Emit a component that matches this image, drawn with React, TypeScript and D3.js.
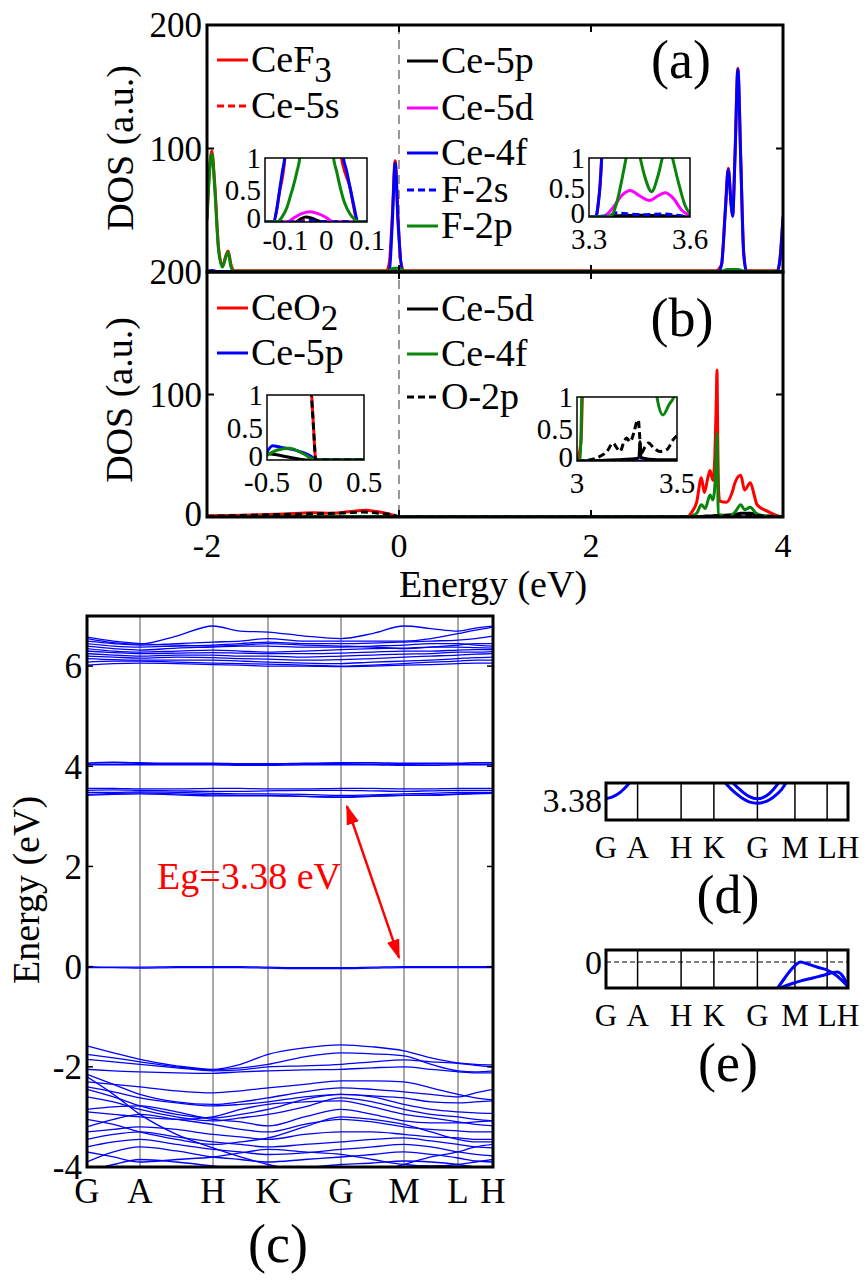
import React from 'react';
import * as d3 from 'd3';

type P = [number, number];

// ---------------- Shared axis values ----------------
const energyTicks = [-2, 0, 2, 4];
const dosTicksA = [100, 200];
const dosTicksB = [0, 100, 200];

// ---------------- Panel (a): CeF3 DOS ----------------
const aCeF3: P[] = [[-2, 44], [-1.98, 76], [-1.95, 98], [-1.92, 72], [-1.88, 20], [-1.84, 5], [-1.8, 14], [-1.78, 17], [-1.75, 6], [-1.72, 1], [-0.13, 1], [-0.1, 8], [-0.07, 45], [-0.04, 90], [-0.01, 44], [0.02, 8], [0.05, 1], [3.3, 1], [3.36, 6], [3.4, 52], [3.43, 84], [3.46, 55], [3.475, 46], [3.5, 95], [3.53, 165], [3.56, 92], [3.59, 17], [3.62, 1], [3.94, 1], [3.97, 12], [4, 45]];
const aCe5s: P[] = [[-2, 0.3], [-1, 0.3], [0, 0.4], [3.3, 0.3], [3.5, 0.5], [4, 0.3]];
const aCe5p: P[] = [[-2, 0.5], [-1.95, 1], [-1.9, 0.5], [-0.06, 0.5], [-0.05, 1.5], [-0.03, 0.5], [4, 0.5]];
const aCe5d: P[] = [[-2, 0.3], [-0.1, 0.3], [-0.04, 0.8], [0.02, 0.3], [3.35, 0.3], [3.42, 1], [3.53, 1], [3.6, 0.3], [4, 0.3]];
const aCe4f: P[] = [[-2, 0], [-0.13, 0], [-0.115, 0.45], [-0.1, 1.1], [-0.07, 40], [-0.04, 88], [-0.01, 40], [0.035, 1.1], [0.058, 0.55], [0.078, 0], [3.32, 0], [3.338, 1], [3.36, 6], [3.4, 50], [3.43, 83], [3.46, 54], [3.475, 45], [3.5, 93], [3.53, 164], [3.56, 90], [3.59, 15], [3.62, 0], [3.94, 0], [3.97, 11], [4, 44]];
const aF2s: P[] = [[-2, 0.5], [-1.95, 1], [-1.9, 0.5], [4, 0.5]];
const aF2p: P[] = [[-2, 42], [-1.98, 73], [-1.95, 96], [-1.92, 69], [-1.88, 18], [-1.84, 4], [-1.8, 13], [-1.78, 16], [-1.75, 4], [-1.72, 0.6], [-0.12, 0.6], [-0.06, 3], [0, 3], [0.06, 0.6], [3.36, 0.6], [3.42, 2], [3.53, 2], [3.6, 0.6], [4, 0.6]];

// inset a1 (-0.15 .. 0.1)
const iA1Ticks = [-0.1, 0, 0.1];
const iA1CeF3: P[] = [[-0.15, 0], [-0.13, 0], [-0.115, 0.45], [-0.1, 1.1], [-0.09, 6], [-0.04, 90], [0.02, 6], [0.035, 1.1], [0.058, 0.55], [0.078, 0], [0.1, 0]];
const iA1Ce5s: P[] = [[-0.15, 0], [-0.07, 0], [-0.05, 0.03], [-0.03, 0.03], [-0.01, 0], [0.1, 0]];
const iA1Ce5p: P[] = [[-0.15, 0], [-0.075, 0], [-0.062, 0.05], [-0.05, 0.08], [-0.035, 0.06], [-0.02, 0.02], [-0.01, 0], [0.1, 0]];
const iA1Ce5d: P[] = [[-0.15, 0], [-0.096, 0], [-0.08, 0.06], [-0.06, 0.13], [-0.04, 0.16], [-0.02, 0.13], [0, 0.07], [0.017, 0], [0.1, 0]];
const iA1Ce4f: P[] = [[-0.15, 0], [-0.13, 0], [-0.121, 0.2], [-0.113, 0.55], [-0.107, 0.8], [-0.101, 1.05], [-0.09, 6], [-0.04, 88], [0.02, 6], [0.041, 1.05], [0.05, 0.8], [0.058, 0.55], [0.068, 0.25], [0.078, 0], [0.1, 0]];
const iA1F2s: P[] = [[-0.15, 0], [-0.06, 0], [-0.04, 0.02], [-0.02, 0.01], [0.1, 0]];
const iA1F2p: P[] = [[-0.15, 0], [-0.121, 0], [-0.108, 0.08], [-0.096, 0.23], [-0.088, 0.4], [-0.081, 0.55], [-0.072, 0.78], [-0.064, 1.05], [-0.05, 3], [0, 3], [0.017, 1.05], [0.026, 0.78], [0.034, 0.55], [0.045, 0.3], [0.058, 0.13], [0.07, 0.04], [0.083, 0], [0.1, 0]];

// inset a2 (3.3 .. 3.6)
const iA2Ticks = [3.3, 3.6];
const iA2CeF3: P[] = [[3.3, 0], [3.32, 0], [3.328, 0.25], [3.333, 0.55], [3.338, 1.05], [3.36, 6], [3.4, 50], [3.43, 84], [3.5, 95], [3.53, 165], [3.56, 92], [3.6, 10]];
const iA2Ce5s: P[] = [[3.3, 0], [3.4, 0.01], [3.5, 0.02], [3.6, 0]];
const iA2Ce5p: P[] = [[3.3, 0], [3.38, 0.02], [3.45, 0.03], [3.52, 0.02], [3.6, 0]];
const iA2Ce5d: P[] = [[3.3, 0], [3.34, 0], [3.37, 0.15], [3.4, 0.38], [3.422, 0.45], [3.45, 0.36], [3.48, 0.28], [3.505, 0.36], [3.526, 0.41], [3.55, 0.32], [3.575, 0.12], [3.6, 0.02]];
const iA2Ce4f: P[] = [[3.3, 0], [3.32, 0], [3.328, 0.25], [3.333, 0.55], [3.338, 1.05], [3.36, 6], [3.4, 50], [3.43, 83], [3.46, 54], [3.475, 45], [3.5, 93], [3.53, 164], [3.56, 90], [3.6, 8]];
const iA2F2s: P[] = [[3.3, 0], [3.36, 0.02], [3.38, 0.07], [3.42, 0.05], [3.46, 0.04], [3.52, 0.05], [3.56, 0.03], [3.6, 0]];
const iA2F2p: P[] = [[3.3, 0], [3.355, 0], [3.37, 0.05], [3.385, 0.3], [3.4, 0.7], [3.412, 1.05], [3.43, 1.5], [3.45, 1.05], [3.465, 0.7], [3.486, 0.43], [3.505, 0.7], [3.52, 1.05], [3.535, 1.3], [3.546, 1.05], [3.565, 0.6], [3.585, 0.2], [3.6, 0.05]];

// ---------------- Panel (b): CeO2 DOS ----------------
const bCeO2: P[] = [[-2, 1], [-1.6, 1.5], [-1.2, 2.5], [-0.9, 3.5], [-0.7, 3], [-0.5, 4.5], [-0.35, 5.5], [-0.2, 4], [-0.06, 1.5], [0, 0], [3, 0], [3.05, 4], [3.1, 12], [3.15, 32], [3.18, 20], [3.22, 33], [3.24, 38], [3.27, 30], [3.29, 50], [3.305, 95], [3.3125, 120], [3.32, 65], [3.33, 20], [3.34, 13], [3.41, 12], [3.47, 20], [3.5, 28], [3.56, 34], [3.6, 22], [3.66, 28], [3.7, 18], [3.73, 10], [3.83, 5], [3.97, 0.5], [4, 0.3]];
const bCe5p: P[] = [[-2, 0.3], [-0.4, 0.5], [0, 0], [4, 0]];
const bCe5d: P[] = [[-2, 0.3], [-0.3, 0.3], [0, 0], [3, 0], [3.3, 1], [3.5, 2], [3.56, 3], [3.66, 3], [3.75, 1], [4, 0]];
const bCe4f: P[] = [[-2, 0.3], [-0.3, 0.5], [0, 0], [3, 0], [3.1, 3], [3.15, 10], [3.19, 7], [3.24, 18], [3.27, 14], [3.3, 40], [3.3125, 68], [3.32, 30], [3.325, 2], [3.45, 1], [3.5, 4], [3.56, 10], [3.6, 6], [3.66, 8], [3.72, 3], [3.8, 1], [4, 0]];
const bO2p: P[] = [[-2, 0.5], [-1.5, 1.5], [-1, 2.5], [-0.6, 3.2], [-0.4, 4], [-0.2, 3], [-0.05, 1.5], [0, 0], [3, 0], [3.3, 1], [3.6, 1.5], [4, 0]];

// inset b1 (-0.5 .. 0.5)
const iB1Ticks = [-0.5, 0, 0.5];
const iB1CeO2: P[] = [[-0.5, 4.5], [-0.2, 4], [-0.06, 1.5], [-0.04, 1.0], [-0.02, 0.5], [-0.005, 0.1], [0, 0], [0.5, 0]];
const iB1Ce5p: P[] = [[-0.5, 0.13], [-0.44, 0.22], [-0.37, 0.2], [-0.3, 0.18], [-0.16, 0.13], [-0.04, 0.05], [0, 0], [0.5, 0]];
const iB1Ce5d: P[] = [[-0.5, 0.1], [-0.4, 0.08], [-0.3, 0.05], [-0.16, 0.01], [-0.1, 0], [0.5, 0]];
const iB1Ce4f: P[] = [[-0.5, 0.07], [-0.4, 0.15], [-0.27, 0.18], [-0.13, 0.1], [-0.02, 0.01], [0, 0], [0.5, 0]];
const iB1O2p: P[] = [[-0.5, 4], [-0.2, 3], [-0.06, 1.4], [-0.04, 0.95], [-0.02, 0.48], [-0.005, 0.1], [0, 0], [0.5, 0]];

// inset b2 (3 .. 3.5)
const iB2Ticks = [3, 3.5];
const iB2CeO2: P[] = [[3, 0], [3.02, 0.3], [3.03, 1.5], [3.1, 12], [3.15, 32], [3.3125, 120], [3.34, 13], [3.41, 12], [3.5, 28]];
const iB2Ce5p: P[] = [[3, 0], [3.5, 0]];
const iB2Ce5d: P[] = [[3, 0], [3.2, 0.02], [3.3, 0.04], [3.31, 0.06], [3.315, 0.3], [3.32, 0.05], [3.4, 0.02], [3.5, 0.02]];
const iB2Ce4f: P[] = [[3, 0], [3.015, 0.02], [3.02, 0.4], [3.025, 1.2], [3.05, 4], [3.3, 40], [3.38, 1.6], [3.4, 1.0], [3.43, 0.72], [3.46, 0.88], [3.49, 1.05], [3.5, 1.3]];
const iB2O2p: P[] = [[3, 0], [3.05, 0.01], [3.1, 0.05], [3.15, 0.15], [3.18, 0.28], [3.2, 0.2], [3.215, 0.15], [3.235, 0.3], [3.248, 0.36], [3.265, 0.3], [3.285, 0.45], [3.3, 0.62], [3.307, 0.64], [3.312, 0.45], [3.32, 0.12], [3.34, 0.22], [3.357, 0.28], [3.385, 0.2], [3.415, 0.15], [3.45, 0.18], [3.48, 0.33], [3.5, 0.4]];

// ---------------- Panel (c): band structure ----------------
const kLabels = ['G', 'A', 'H', 'K', 'G', 'M', 'L', 'H'];
const kPoints = [0, 0.53, 1.26, 1.81, 2.54, 3.17, 3.71, 4.06];
const kGrid = [0, 0.265, 0.53, 0.895, 1.26, 1.535, 1.81, 2.175, 2.54, 2.855, 3.17, 3.44, 3.71, 3.885, 4.06];
const bandTicks = [-4, -2, 0, 2, 4, 6];

const upperBands = [
  [6.55, 6.47, 6.44, 6.6, 6.8, 6.7, 6.68, 6.6, 6.55, 6.65, 6.8, 6.75, 6.7, 6.76, 6.8],
  [6.5, 6.45, 6.42, 6.45, 6.48, 6.5, 6.55, 6.5, 6.5, 6.5, 6.5, 6.55, 6.65, 6.72, 6.78],
  [6.45, 6.4, 6.38, 6.4, 6.42, 6.45, 6.48, 6.45, 6.45, 6.46, 6.48, 6.5, 6.52, 6.55, 6.6],
  [6.4, 6.35, 6.32, 6.36, 6.38, 6.4, 6.4, 6.38, 6.38, 6.4, 6.42, 6.45, 6.45, 6.42, 6.4],
  [6.35, 6.3, 6.28, 6.3, 6.32, 6.3, 6.28, 6.3, 6.33, 6.35, 6.36, 6.38, 6.38, 6.37, 6.36],
  [6.3, 6.27, 6.25, 6.26, 6.27, 6.26, 6.25, 6.25, 6.26, 6.28, 6.3, 6.3, 6.32, 6.33, 6.33],
  [6.25, 6.22, 6.2, 6.22, 6.22, 6.2, 6.2, 6.18, 6.2, 6.22, 6.24, 6.25, 6.28, 6.28, 6.29],
  [6.2, 6.18, 6.16, 6.18, 6.17, 6.15, 6.14, 6.12, 6.13, 6.15, 6.18, 6.2, 6.22, 6.24, 6.25],
  [6.15, 6.13, 6.12, 6.12, 6.12, 6.1, 6.08, 6.06, 6.05, 6.08, 6.1, 6.12, 6.15, 6.17, 6.18],
  [6.08, 6.1, 6.1, 6.08, 6.06, 6.05, 6.04, 6.02, 6.0, 6.02, 6.05, 6.08, 6.1, 6.12, 6.12],
  [6.02, 6.05, 6.06, 6.05, 6.03, 6.02, 6.0, 6.0, 5.99, 6.0, 6.02, 6.03, 6.05, 6.06, 6.06],
  [6.58, 6.5, 6.45, 6.42, 6.4, 6.42, 6.45, 6.42, 6.4, 6.38, 6.35, 6.38, 6.42, 6.45, 6.45],
];
const fourBands = [
  [4.06, 4.08, 4.07, 4.06, 4.06, 4.05, 4.05, 4.06, 4.07, 4.07, 4.06, 4.06, 4.06, 4.07, 4.07],
  [4.04, 4.04, 4.05, 4.05, 4.04, 4.04, 4.04, 4.05, 4.05, 4.04, 4.04, 4.05, 4.05, 4.04, 4.04],
  [4.03, 4.03, 4.03, 4.03, 4.03, 4.02, 4.02, 4.03, 4.03, 4.03, 4.02, 4.02, 4.03, 4.03, 4.03],
];
const gapBands = [
  [3.56, 3.56, 3.55, 3.55, 3.56, 3.56, 3.55, 3.55, 3.56, 3.56, 3.55, 3.55, 3.56, 3.56, 3.56],
  [3.52, 3.53, 3.52, 3.51, 3.5, 3.5, 3.51, 3.52, 3.52, 3.51, 3.5, 3.51, 3.52, 3.52, 3.52],
  [3.48, 3.48, 3.49, 3.48, 3.46, 3.45, 3.45, 3.44, 3.42, 3.43, 3.45, 3.46, 3.48, 3.48, 3.48],
  [3.44, 3.46, 3.47, 3.45, 3.43, 3.42, 3.42, 3.4, 3.38, 3.4, 3.42, 3.43, 3.45, 3.46, 3.47],
  [3.42, 3.44, 3.45, 3.43, 3.41, 3.41, 3.41, 3.4, 3.39, 3.41, 3.42, 3.42, 3.44, 3.45, 3.46],
];
const zeroBands = [
  [0.0, -0.01, -0.01, 0, 0, 0, -0.01, -0.02, -0.02, -0.01, 0, 0, 0, 0, 0],
  [-0.02, -0.02, -0.03, -0.02, -0.02, -0.02, -0.03, -0.04, -0.04, -0.03, -0.02, -0.02, -0.02, -0.02, -0.02],
];
const valenceBands = [
  [-1.58, -1.72, -1.85, -1.98, -2.05, -1.95, -1.75, -1.62, -1.56, -1.6, -1.68, -1.82, -1.92, -1.95, -1.96],
  [-1.75, -1.82, -1.9, -2.0, -2.06, -2.02, -1.95, -1.8, -1.72, -1.74, -1.78, -1.95, -2.08, -2.1, -2.08],
  [-1.85, -1.9, -1.95, -2.02, -2.08, -2.06, -2.0, -1.98, -1.95, -1.9, -1.86, -1.9, -1.93, -1.97, -2.0],
  [-2.05, -2.08, -2.1, -2.12, -2.13, -2.1, -2.08, -2.06, -2.05, -2.02, -2.0, -2.05, -2.1, -2.12, -2.12],
  [-2.3, -2.35, -2.4, -2.48, -2.52, -2.48, -2.42, -2.35, -2.28, -2.28, -2.3, -2.42, -2.55, -2.62, -2.66],
  [-2.15, -2.35, -2.55, -2.7, -2.75, -2.7, -2.62, -2.5, -2.42, -2.45, -2.5, -2.55, -2.6, -2.52, -2.45],
  [-2.45, -2.6, -2.78, -2.95, -3.02, -2.95, -2.85, -2.65, -2.55, -2.6, -2.75, -2.85, -2.9, -2.92, -2.93],
  [-2.6, -2.7, -2.85, -3.0, -3.08, -3.02, -2.95, -2.8, -2.62, -2.7, -2.85, -2.95, -3.0, -3.05, -3.08],
  [-2.85, -2.8, -2.78, -2.9, -3.05, -3.1, -3.18, -3.0, -2.85, -2.95, -3.08, -3.12, -3.12, -3.1, -3.08],
  [-2.9, -2.95, -3.0, -3.05, -3.0, -2.85, -2.75, -2.7, -2.68, -2.8, -2.95, -3.02, -3.1, -3.15, -3.18],
  [-3.2, -3.05, -2.95, -3.05, -3.15, -3.25, -3.3, -3.15, -3.05, -3.1, -3.2, -3.25, -3.28, -3.3, -3.3],
  [-3.3, -3.25, -3.2, -3.25, -3.35, -3.4, -3.45, -3.35, -3.3, -3.3, -3.35, -3.4, -3.42, -3.45, -3.45],
  [-3.45, -3.35, -3.3, -3.4, -3.5, -3.55, -3.6, -3.55, -3.5, -3.45, -3.42, -3.48, -3.55, -3.6, -3.62],
  [-3.6, -3.5, -3.45, -3.55, -3.65, -3.7, -3.75, -3.72, -3.65, -3.6, -3.55, -3.6, -3.7, -3.75, -3.78],
  [-3.9, -3.7, -3.6, -3.68, -3.8, -3.85, -3.9, -3.85, -3.8, -3.75, -3.7, -3.75, -3.82, -3.88, -3.9],
  [-4.1, -3.95, -3.85, -3.9, -3.98, -4.05, -4.1, -4.02, -3.95, -3.92, -3.88, -3.9, -3.95, -4.0, -4.02],
  [-3.05, -3.15, -3.3, -3.45, -3.55, -3.5, -3.42, -3.2, -3.0, -3.05, -3.15, -3.3, -3.45, -3.5, -3.5],
  [-2.4, -2.5, -2.62, -2.72, -2.78, -2.75, -2.7, -2.6, -2.55, -2.58, -2.62, -2.7, -2.72, -2.7, -2.68],
  [-3.7, -3.8, -3.9, -3.85, -3.8, -3.72, -3.65, -3.7, -3.75, -3.85, -3.95, -3.98, -3.95, -3.9, -3.85],
  [-2.2, -2.55, -2.95, -3.35, -3.62, -3.8, -3.95, -4.1, -4.2, -4.1, -3.95, -3.8, -3.7, -3.6, -3.55],
];
const gapLabel = 'Eg=3.38 eV';
const gapLabelAt: P = [0.7, 1.54];
const gapArrow: P[] = [[2.6, 3.2], [3.12, 0.18]];

// ---------------- Panels (d), (e): zoom near band edges ----------------
const dTick = 3.38;
const dLeftK = [0, 0.1, 0.2, 0.3, 0.4, 0.45];
const dLeftE = [3.384, 3.388, 3.397, 3.412, 3.432, 3.445];
const dBand1K = [2.0, 2.1, 2.2, 2.3, 2.4, 2.54, 2.65, 2.75, 2.85, 2.95, 3.02];
const dBand1E = [3.43, 3.412, 3.396, 3.383, 3.374, 3.37, 3.373, 3.381, 3.394, 3.412, 3.43];
const dBand2K = [2.13, 2.2, 2.3, 2.4, 2.54, 2.65, 2.75, 2.85, 2.89];
const dBand2E = [3.43, 3.418, 3.402, 3.39, 3.383, 3.388, 3.4, 3.42, 3.43];
const eTick = 0;
const eBand1K = [2.88, 3.0, 3.1, 3.2, 3.26, 3.4, 3.55, 3.71, 3.85, 3.95, 4.06];
const eBand1E = [-0.065, -0.04, -0.02, -0.005, 0.0, -0.006, -0.013, -0.02, -0.032, -0.045, -0.062];
const eBand2K = [2.92, 3.1, 3.3, 3.47, 3.65, 3.88, 3.97, 4.06];
const eBand2E = [-0.065, -0.055, -0.046, -0.04, -0.033, -0.025, -0.035, -0.062];

// ---------------- Styles ----------------
const FONT = '"Liberation Serif", "Times New Roman", Times, serif';
const RED = '#ff0000';
const BLUE = '#0000ff';
const GREEN = '#0a850a';
const MAG = '#ff00ff';
const BLK = '#000000';
const DASH = '7,4';

type S = { name: string; color: string; dash: string; main: P[]; in1: P[]; in2: P[] };

const seriesA: S[] = [
  { name: 'CeF_3', color: RED, dash: '', main: aCeF3, in1: iA1CeF3, in2: iA2CeF3 },
  { name: 'Ce-5s', color: RED, dash: DASH, main: aCe5s, in1: iA1Ce5s, in2: iA2Ce5s },
  { name: 'Ce-5p', color: BLK, dash: '', main: aCe5p, in1: iA1Ce5p, in2: iA2Ce5p },
  { name: 'Ce-5d', color: MAG, dash: '', main: aCe5d, in1: iA1Ce5d, in2: iA2Ce5d },
  { name: 'Ce-4f', color: BLUE, dash: '', main: aCe4f, in1: iA1Ce4f, in2: iA2Ce4f },
  { name: 'F-2s', color: BLUE, dash: DASH, main: aF2s, in1: iA1F2s, in2: iA2F2s },
  { name: 'F-2p', color: GREEN, dash: '', main: aF2p, in1: iA1F2p, in2: iA2F2p },
];
const seriesB: S[] = [
  { name: 'CeO_2', color: RED, dash: '', main: bCeO2, in1: iB1CeO2, in2: iB2CeO2 },
  { name: 'Ce-5p', color: BLUE, dash: '', main: bCe5p, in1: iB1Ce5p, in2: iB2Ce5p },
  { name: 'Ce-5d', color: BLK, dash: '', main: bCe5d, in1: iB1Ce5d, in2: iB2Ce5d },
  { name: 'Ce-4f', color: GREEN, dash: '', main: bCe4f, in1: iB1Ce4f, in2: iB2Ce4f },
  { name: 'O-2p', color: BLK, dash: DASH, main: bO2p, in1: iB1O2p, in2: iB2O2p },
];

const curve = (xs: any, ys: any) =>
  d3.line<P>().x((d) => xs(d[0])).y((d) => ys(d[1])).curve(d3.curveMonotoneX);

function LegendItem({ x0, base, s }: { x0: number; base: number; s: S }) {
  const [main, sub] = s.name.split('_');
  return (
    <g>
      <line x1={x0} x2={x0 + 31} y1={base - 12} y2={base - 12} stroke={s.color} strokeWidth={3} strokeDasharray={s.dash || undefined} />
      <text x={x0 + 34} y={base} fontSize={38}>
        {main}
        {sub ? <tspan fontSize={35} dy={10}>{sub}</tspan> : null}
      </text>
    </g>
  );
}

function Inset({ id, xd, yd, xr, yr, data, xTicks, labelGap }: any) {
  const xs = d3.scaleLinear().domain(xd).range(xr);
  const ys = d3.scaleLinear().domain(yd).range(yr);
  const line = curve(xs, ys);
  return (
    <g>
      <defs>
        <clipPath id={id}>
          <rect x={xr[0]} y={yr[1]} width={xr[1] - xr[0]} height={yr[0] - yr[1]} />
        </clipPath>
      </defs>
      <rect x={xr[0]} y={yr[1]} width={xr[1] - xr[0]} height={yr[0] - yr[1]} fill="#fff" />
      <g clipPath={`url(#${id})`}>
        {data.map((s: S, i: number) => (
          <path key={i} d={line(id.endsWith('1') ? s.in1 : s.in2) || ''} fill="none" stroke={s.color} strokeWidth={3} strokeDasharray={s.dash || undefined} strokeLinejoin="round" />
        ))}
      </g>
      <rect x={xr[0]} y={yr[1]} width={xr[1] - xr[0]} height={yr[0] - yr[1]} fill="none" stroke="#000" strokeWidth={1.5} />
      {[0, 0.5, 1].map((t) => (
        <text key={t} x={xr[0] - 4} y={ys(t)} dy={t === 0 ? '0.2em' : '0.35em'} textAnchor="end" fontSize={29}>{String(t)}</text>
      ))}
      {xTicks.map((t: number) => (
        <text key={t} x={xs(t)} y={yr[0] + labelGap} textAnchor="middle" fontSize={29}>{String(t)}</text>
      ))}
    </g>
  );
}

export default function App() {
  const x = d3.scaleLinear().domain([-2, 4]).range([207, 783]);
  const yA = d3.scaleLinear().domain([0, 200]).range([272, 25]);
  const yB = d3.scaleLinear().domain([0, 200]).range([517, 272]);
  const lineA = curve(x, yA);
  const lineB = curve(x, yB);

  const kx = d3.scaleLinear().domain([0, 4.06]).range([87, 493]);
  const ey = d3.scaleLinear().domain([-4, 7]).range([1167, 616]);
  const bandLine = d3.line<number>().x((_, i) => kx(kGrid[i])).y((d) => ey(d)).curve(d3.curveMonotoneX);
  const allBands = [...upperBands, ...fourBands, ...gapBands, ...zeroBands, ...valenceBands];

  const kx2 = d3.scaleLinear().domain([0, 4.06]).range([606, 848]);
  const dy = d3.scaleLinear().domain([3.32, 3.43]).range([820, 783]);
  const eyy = d3.scaleLinear().domain([-0.065, 0.03]).range([988, 950]);
  const dLine = d3.line<number>().curve(d3.curveMonotoneX);

  const mkPts = (ks: number[], es: number[], xs: any, ys: any) => ks.map((k, i) => [xs(k), ys(es[i])] as [number, number]);

  const boxA = { x0: 207, x1: 783, y0: 25, y1: 272 };
  const boxB = { x0: 207, x1: 783, y0: 272, y1: 517 };

  const axisTicks = (ys: any, ticks: number[], y0: number, y1: number) => (
    <g stroke="#000" strokeWidth={2}>
      {energyTicks.map((t) => (
        <g key={'x' + t}>
          <line x1={x(t)} x2={x(t)} y1={y1} y2={y1 - 7} />
          <line x1={x(t)} x2={x(t)} y1={y0} y2={y0 + 7} />
        </g>
      ))}
      {ticks.map((t) => (
        <g key={'y' + t}>
          <line x1={207} x2={214} y1={ys(t)} y2={ys(t)} />
          <line x1={783} x2={776} y1={ys(t)} y2={ys(t)} />
        </g>
      ))}
    </g>
  );

  const [a0, a1] = gapArrow;
  const ax0 = kx(a0[0]), ay0 = ey(a0[1]), ax1 = kx(a1[0]), ay1 = ey(a1[1]);

  return (
    <svg width={867} height={1280} style={{ position: 'absolute', left: 0, top: 0, background: '#fff' }} fontFamily={FONT}>
      <defs>
        <clipPath id="clipA"><rect x={boxA.x0} y={boxA.y0} width={boxA.x1 - boxA.x0} height={boxA.y1 - boxA.y0} /></clipPath>
        <clipPath id="clipB"><rect x={boxB.x0} y={boxB.y0} width={boxB.x1 - boxB.x0} height={boxB.y1 - boxB.y0} /></clipPath>
        <clipPath id="clipC"><rect x={87} y={616} width={406} height={551} /></clipPath>
        <clipPath id="clipD"><rect x={606} y={783} width={242} height={37} /></clipPath>
        <clipPath id="clipE"><rect x={606} y={950} width={242} height={38} /></clipPath>
        <marker id="arrowHead" viewBox="0 0 10 10" refX="9" refY="5" markerWidth="8" markerHeight="8" orient="auto-start-reverse" markerUnits="strokeWidth">
          <path d="M0,1.8 L10,5 L0,8.2 z" fill={RED} />
        </marker>
      </defs>
      <rect x={0} y={0} width={867} height={1280} fill="#fff" />

      {/* ============ Panel (a) ============ */}
      <line x1={x(0)} x2={x(0)} y1={25} y2={517} stroke="#555" strokeWidth={1.2} strokeDasharray="9,6" />
      <g clipPath="url(#clipA)">
        {seriesA.map((s, i) => (
          <path key={i} d={lineA(s.main) || ''} fill="none" stroke={s.color} strokeWidth={3} strokeDasharray={s.dash || undefined} strokeLinejoin="round" />
        ))}
      </g>
      <rect x={boxA.x0} y={boxA.y0} width={boxA.x1 - boxA.x0} height={boxA.y1 - boxA.y0} fill="none" stroke="#000" strokeWidth={3} />
      {axisTicks(yA, [0, 100, 200], boxA.y0, boxA.y1)}
      {dosTicksA.map((t) => (
        <text key={t} x={202} y={yA(t)} dy="0.35em" textAnchor="end" fontSize={35}>{t}</text>
      ))}
      <text transform={`translate(133,${148}) rotate(-90)`} textAnchor="middle" fontSize={38}>DOS (a.u.)</text>
      {seriesA.slice(0, 2).map((s, i) => <LegendItem key={i} x0={217} base={[72, 118][i]} s={s} />)}
      {seriesA.slice(2).map((s, i) => <LegendItem key={i} x0={407} base={[73, 120, 165, 202, 238][i]} s={s} />)}
      <text x={681} y={78} textAnchor="middle" fontSize={54}>(a)</text>
      <Inset id="insA1" xd={[-0.15, 0.1]} yd={[0, 1]} xr={[265, 367]} yr={[222, 158]} data={seriesA} xTicks={iA1Ticks} labelGap={28} />
      <Inset id="insA2" xd={[3.3, 3.6]} yd={[0, 1]} xr={[589, 690]} yr={[217, 158]} data={seriesA} xTicks={iA2Ticks} labelGap={32} />

      {/* ============ Panel (b) ============ */}
      <g clipPath="url(#clipB)">
        {seriesB.map((s, i) => (
          <path key={i} d={lineB(s.main) || ''} fill="none" stroke={s.color} strokeWidth={3} strokeDasharray={s.dash || undefined} strokeLinejoin="round" />
        ))}
      </g>
      <rect x={boxB.x0} y={boxB.y0} width={boxB.x1 - boxB.x0} height={boxB.y1 - boxB.y0} fill="none" stroke="#000" strokeWidth={3} />
      {axisTicks(yB, [0, 100, 200], boxB.y0, boxB.y1)}
      {dosTicksB.map((t) => (
        <text key={t} x={202} y={yB(t)} dy={t === 0 ? '0.25em' : '0.35em'} textAnchor="end" fontSize={35}>{t}</text>
      ))}
      {energyTicks.map((t) => (
        <text key={t} x={x(t)} y={557} textAnchor="middle" fontSize={34}>{t}</text>
      ))}
      <text x={493} y={597} textAnchor="middle" fontSize={38}>Energy (eV)</text>
      <text transform={`translate(132,${400}) rotate(-90)`} textAnchor="middle" fontSize={38}>DOS (a.u.)</text>
      {seriesB.slice(0, 2).map((s, i) => <LegendItem key={i} x0={217} base={[320, 365][i]} s={s} />)}
      {seriesB.slice(2).map((s, i) => <LegendItem key={i} x0={407} base={[321, 366, 409][i]} s={s} />)}
      <text x={682} y={336} textAnchor="middle" fontSize={54}>(b)</text>
      <Inset id="insB1" xd={[-0.5, 0.5]} yd={[0, 1]} xr={[267, 364]} yr={[460, 395]} data={seriesB} xTicks={iB1Ticks} labelGap={32} />
      <Inset id="insB2" xd={[3, 3.5]} yd={[0, 1]} xr={[577, 677]} yr={[461, 397]} data={seriesB} xTicks={iB2Ticks} labelGap={32} />

      {/* ============ Panel (c) ============ */}
      {kPoints.slice(1, -1).map((k, i) => (
        <line key={i} x1={kx(k)} x2={kx(k)} y1={616} y2={1167} stroke="#555" strokeWidth={1} />
      ))}
      <g clipPath="url(#clipC)">
        {allBands.map((b, i) => (
          <path key={i} d={bandLine(b) || ''} fill="none" stroke={BLUE} strokeWidth={1.3} />
        ))}
      </g>
      <rect x={87} y={616} width={406} height={551} fill="none" stroke="#000" strokeWidth={3} />
      {bandTicks.map((t) => (
        <g key={t}>
          <line x1={87} x2={93} y1={ey(t)} y2={ey(t)} stroke="#000" strokeWidth={1.5} />
          <line x1={493} x2={487} y1={ey(t)} y2={ey(t)} stroke="#000" strokeWidth={1.5} />
          <text x={82} y={ey(t)} dy="0.35em" textAnchor="end" fontSize={35}>{t}</text>
        </g>
      ))}
      {kLabels.map((l, i) => (
        <text key={i} x={kx(kPoints[i])} y={1203} textAnchor="middle" fontSize={35}>{l}</text>
      ))}
      <text transform={`translate(39,890) rotate(-90)`} textAnchor="middle" fontSize={38}>Energy (eV)</text>
      <line x1={ax0} y1={ay0} x2={ax1} y2={ay1} stroke={RED} strokeWidth={2.5} markerStart="url(#arrowHead)" markerEnd="url(#arrowHead)" />
      <text x={kx(gapLabelAt[0])} y={ey(gapLabelAt[1])} fontSize={38} fill={RED}>{gapLabel}</text>
      <text x={278} y={1262} textAnchor="middle" fontSize={54}>(c)</text>

      {/* ============ Panel (d) ============ */}
      {kPoints.slice(1, -1).map((k, i) => (
        <line key={i} x1={kx2(k)} x2={kx2(k)} y1={783} y2={820} stroke="#000" strokeWidth={1.5} />
      ))}
      <g clipPath="url(#clipD)" fill="none" stroke={BLUE} strokeWidth={3}>
        <path d={dLine(mkPts(dLeftK, dLeftE, kx2, dy)) || ''} />
        <path d={dLine(mkPts(dBand1K, dBand1E, kx2, dy)) || ''} />
        <path d={dLine(mkPts(dBand2K, dBand2E, kx2, dy)) || ''} />
      </g>
      <rect x={606} y={783} width={242} height={37} fill="none" stroke="#000" strokeWidth={3} />
      <text x={602} y={dy(dTick)} dy="0.35em" textAnchor="end" fontSize={34}>{dTick.toFixed(2)}</text>
      {kLabels.map((l, i) => (
        <text key={i} x={kx2(kPoints[i])} y={858} textAnchor="middle" fontSize={31}>{l}</text>
      ))}
      <text x={728} y={913} textAnchor="middle" fontSize={54}>(d)</text>

      {/* ============ Panel (e) ============ */}
      {kPoints.slice(1, -1).map((k, i) => (
        <line key={i} x1={kx2(k)} x2={kx2(k)} y1={950} y2={988} stroke="#000" strokeWidth={1.5} />
      ))}
      <line x1={606} x2={848} y1={eyy(eTick)} y2={eyy(eTick)} stroke="#000" strokeWidth={1} strokeDasharray="5,3" />
      <g clipPath="url(#clipE)" fill="none" stroke={BLUE} strokeWidth={3}>
        <path d={dLine(mkPts(eBand1K, eBand1E, kx2, eyy)) || ''} />
        <path d={dLine(mkPts(eBand2K, eBand2E, kx2, eyy)) || ''} />
      </g>
      <rect x={606} y={950} width={242} height={38} fill="none" stroke="#000" strokeWidth={3} />
      <text x={602} y={eyy(eTick)} dy="0.35em" textAnchor="end" fontSize={34}>{String(eTick)}</text>
      {kLabels.map((l, i) => (
        <text key={i} x={kx2(kPoints[i])} y={1026} textAnchor="middle" fontSize={31}>{l}</text>
      ))}
      <text x={728} y={1081} textAnchor="middle" fontSize={54}>(e)</text>
    </svg>
  );
}
